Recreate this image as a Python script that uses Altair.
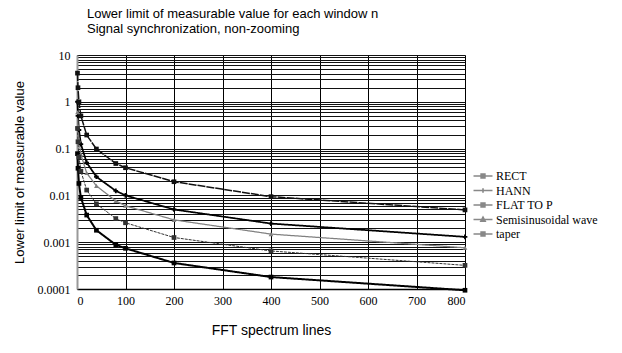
import altair as alt
import pandas as pd

# FFT spectrum lines (x) and lower limit of measurable value per window function
x_lines = [1, 2, 4, 8, 20, 40, 80, 100, 200, 400, 800]
rect = [0.078, 0.038, 0.018, 0.0090, 0.0038, 0.0018, 0.00088, 0.00074, 0.00036, 0.00018, 0.000094]
hann = [1.0, 0.5, 0.25, 0.125, 0.05, 0.025, 0.0125, 0.0100, 0.0050, 0.0025, 0.00130]
flat_top = [4.1, 2.0, 1.0, 0.5, 0.195, 0.098, 0.048, 0.039, 0.0196, 0.0094, 0.0049]
semi = [0.6, 0.3, 0.15, 0.075, 0.030, 0.0160, 0.0076, 0.0060, 0.0030, 0.00149, 0.00076]
taper = [0.27, 0.14, 0.066, 0.033, 0.013, 0.0066, 0.0032, 0.0026, 0.00126, 0.00065, 0.00032]

series_names = ["RECT", "HANN", "FLAT TO P", "Semisinusoidal wave", "taper"]
series_vals = [rect, hann, flat_top, semi, taper]
series_colors = ["#000000", "#000000", "#111111", "#808080", "#333333"]
series_shapes = ["square", "cross", "square", "triangle-up", "square"]
# legend glyphs: short line with the series marker in the middle (marker drawn as small solid block)
legend_glyphs = [
    "M-2,0H2M-0.4,-0.4H0.4V0.4H-0.4ZM-0.2,-0.2H0.2V0.2H-0.2Z",
    "M-2,0H2M0,-0.45V0.45",
    "M-2,0H2M-0.4,-0.4H0.4V0.4H-0.4ZM-0.2,-0.2H0.2V0.2H-0.2Z",
    "M-2,0H2M0,-0.5L0.45,0.35H-0.45Z",
    "M-2,0H2M-0.4,-0.4H0.4V0.4H-0.4ZM-0.4,-0.4L0.4,0.4M0.4,-0.4L-0.4,0.4",
]
series_dash = [[1, 0], [1, 0], [8, 1], [1, 0], [3, 1]]
series_width = [2, 1, 1.6, 1.5, 1.5]

x_ticks = [0, 100, 200, 300, 400, 500, 600, 700, 800]
y_grid = [m * 10.0 ** e for e in range(-4, 1) for m in range(1, 10)] + [10.0]

rows = []
for name, vals in zip(series_names, series_vals):
    for xv, yv in zip(x_lines, vals):
        rows.append({"x": xv, "y": yv, "series": name})
df = pd.DataFrame(rows)

leg = alt.Legend(
    title=None, orient="none", legendX=400, legendY=115,
    labelFont="Liberation Serif", labelFontSize=12, labelColor="#000",
    symbolSize=90, rowPadding=2.5, labelOffset=7, symbolStrokeWidth=1.6,
    symbolOpacity=1,
)

xenc = alt.X(
    "x:Q",
    scale=alt.Scale(domain=[0, 800], nice=False, zero=False),
    axis=alt.Axis(
        values=x_ticks, grid=True, gridColor="#000", gridOpacity=1, gridWidth=1,
        ticks=False, labelPadding=6, labelFont="Liberation Serif", labelFontSize=12,
        labelColor="#000", domainColor="#000", domainWidth=1.5,
        title="FFT spectrum lines", titleFont="Liberation Sans", titleFontSize=14,
        titleFontWeight="normal", titleColor="#000", titleY=41, titleBaseline="middle",
        labelOverlap=False,
    ),
)
yenc = alt.Y(
    "y:Q",
    scale=alt.Scale(type="log", domain=[0.0001, 10], nice=False),
    axis=alt.Axis(
        values=y_grid, grid=True, gridColor="#111", gridOpacity=1, gridWidth=1,
        ticks=False, labelPadding=7, labelFont="Liberation Serif", labelFontSize=12,
        labelColor="#000", format="~g", labelOverlap=False,
        labelExpr="abs(log(datum.value)/LN10 - round(log(datum.value)/LN10)) < 0.000001 ? datum.label : ''",
        domainColor="#999", domainWidth=2,
        title="Lower limit of measurable value", titleFont="Liberation Sans", titleFontSize=13,
        titleFontWeight="normal", titleColor="#000", titleX=-58, titleY=117,
        titleAngle=270, titleAlign="center", titleBaseline="middle",
    ),
)

base = alt.Chart(df)
color_scale = alt.Scale(domain=series_names, range=series_colors)
dash_scale = alt.Scale(domain=series_names, range=series_dash)
lines = base.mark_line().encode(
    x=xenc, y=yenc,
    color=alt.Color("series:N", scale=color_scale, legend=None),
    strokeDash=alt.StrokeDash("series:N", scale=dash_scale, legend=None),
    strokeWidth=alt.StrokeWidth("series:N", scale=alt.Scale(domain=series_names, range=series_width), legend=None),
)
points = base.mark_point(filled=True, size=22, opacity=1).encode(
    x=xenc, y=yenc,
    color=alt.Color("series:N", scale=color_scale, legend=None),
    shape=alt.Shape("series:N", scale=alt.Scale(domain=series_names, range=series_shapes), legend=None),
)
legend_layer = base.mark_point(size=0, opacity=1, filled=False, strokeWidth=1.6).encode(
    x=xenc, y=yenc,
    color=alt.Color("series:N", scale=color_scale, legend=leg),
    shape=alt.Shape("series:N", scale=alt.Scale(domain=series_names, range=legend_glyphs), legend=leg),
)

chart = alt.layer(lines, points, legend_layer).resolve_scale(shape="independent").properties(
    width=388, height=234,
    autosize=alt.AutoSizeParams(type="none"),
    padding={"left": 77, "top": 55, "right": 157, "bottom": 64},
    title=alt.Title(
        ["Lower limit of measurable value for each window n", "Signal synchronization, non-zooming"],
        anchor="start", frame="group", dx=10, offset=13, font="Liberation Sans",
        fontSize=13, fontWeight="normal", lineHeight=15, color="#000",
    ),
).configure_view(stroke=None).configure(background="white")

chart.save("out.html", embed_options={"renderer": "svg", "actions": False})
